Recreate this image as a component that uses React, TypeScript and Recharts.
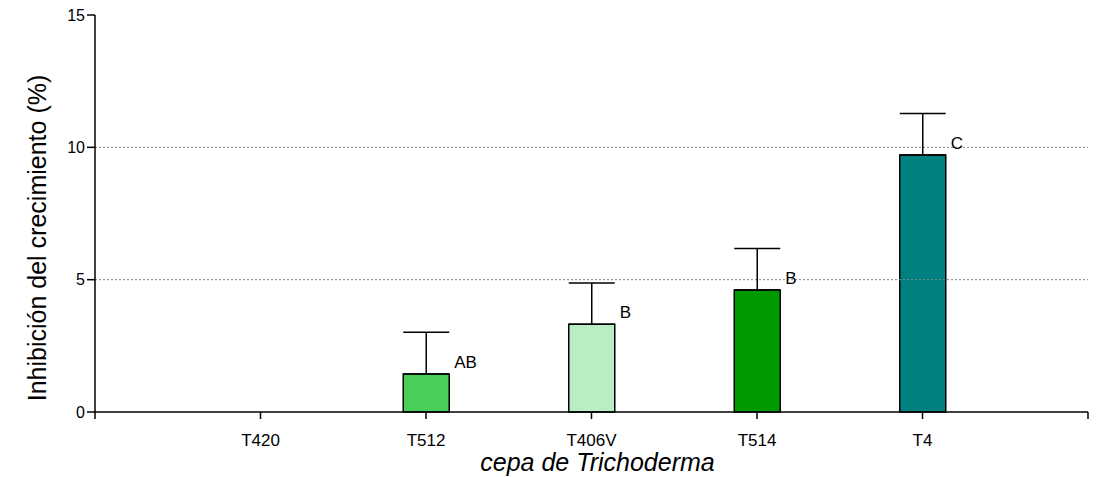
import React from "react";
import {
  Bar,
  BarChart,
  ErrorBar,
  LabelList,
  ReferenceLine,
  XAxis,
  YAxis,
  Label,
} from "recharts";

const strains = ["T420", "T512", "T406V", "T514", "T4"];
const inhibition = [0, 1.44, 3.32, 4.61, 9.71];
const sem = [0, 1.57, 1.55, 1.57, 1.57];
const letters = ["", "AB", "B", "B", "C"];
const colors = ["#ffffff", "#48cf5a", "#b9edc2", "#009900", "#008080"];
const yTicks = [0, 5, 10, 15];

const data = strains.map((name, i) => ({
  pos: i + 1,
  name,
  value: inhibition[i],
  err: [0, sem[i]],
  letter: letters[i],
  fill: colors[i],
}));

const font = "'Liberation Sans', Arial, sans-serif";

const renderLetter = (props: any) => {
  const x = props.x ?? props.viewBox?.x;
  const y = props.y ?? props.viewBox?.y;
  const width = props.width ?? props.viewBox?.width;
  if (!props.value) return null;
  return (
    <text x={x + width + 5} y={y - 6} fontSize={17} fontFamily={font} fill="#000" textAnchor="start">
      {props.value}
    </text>
  );
};

// y title sits a bit below the plot's middle in the original
const renderYTitle = () => (
  <text
    x={46}
    y={238}
    transform="rotate(-90 46 238)"
    textAnchor="middle"
    fontSize={25}
    fontFamily={font}
    fill="#000"
  >
    Inhibición del crecimiento (%)
  </text>
);

export default function App() {
  return (
    <div style={{ position: "absolute", left: 0, top: 0, background: "#fff" }}>
      <BarChart
        width={1104}
        height={477}
        data={data}
        margin={{ top: 15, right: 16, left: 0, bottom: 0 }}
      >
        <ReferenceLine y={5} stroke="#888" strokeDasharray="2 2" />
        <ReferenceLine y={10} stroke="#888" strokeDasharray="2 2" />
        <XAxis
          dataKey="pos"
          type="number"
          domain={[0, 6]}
          ticks={[0, 1, 2, 3, 4, 5, 6]}
          interval={0}
          tickFormatter={(v: number) => strains[v - 1] ?? ""}
          tick={{ fill: "#000", fontSize: 17, fontFamily: font }}
          tickSize={7}
          tickMargin={15}
          stroke="#000"
          strokeWidth={1.5}
          height={65}
        >
          <Label
            value="cepa de Trichoderma"
            position="insideBottom"
            offset={6}
            dx={6}
            style={{ fontSize: 25, fontStyle: "italic", fontFamily: font, fill: "#000" }}
          />
        </XAxis>
        <YAxis
          width={95}
          domain={[0, 15]}
          ticks={yTicks}
          interval={0}
          tick={{ fill: "#000", fontSize: 16, fontFamily: font }}
          tickSize={8}
          tickMargin={2}
          stroke="#000"
          strokeWidth={1.5}
        >
          <Label content={renderYTitle} />
        </YAxis>
        <Bar
          dataKey="value"
          barSize={46}
          stroke="#000"
          strokeWidth={1.5}
          isAnimationActive={false}
        >
          <ErrorBar dataKey="err" width={23} stroke="#000" strokeWidth={1.5} direction="y" />
          <LabelList dataKey="letter" content={renderLetter} />
        </Bar>
      </BarChart>
    </div>
  );
}
